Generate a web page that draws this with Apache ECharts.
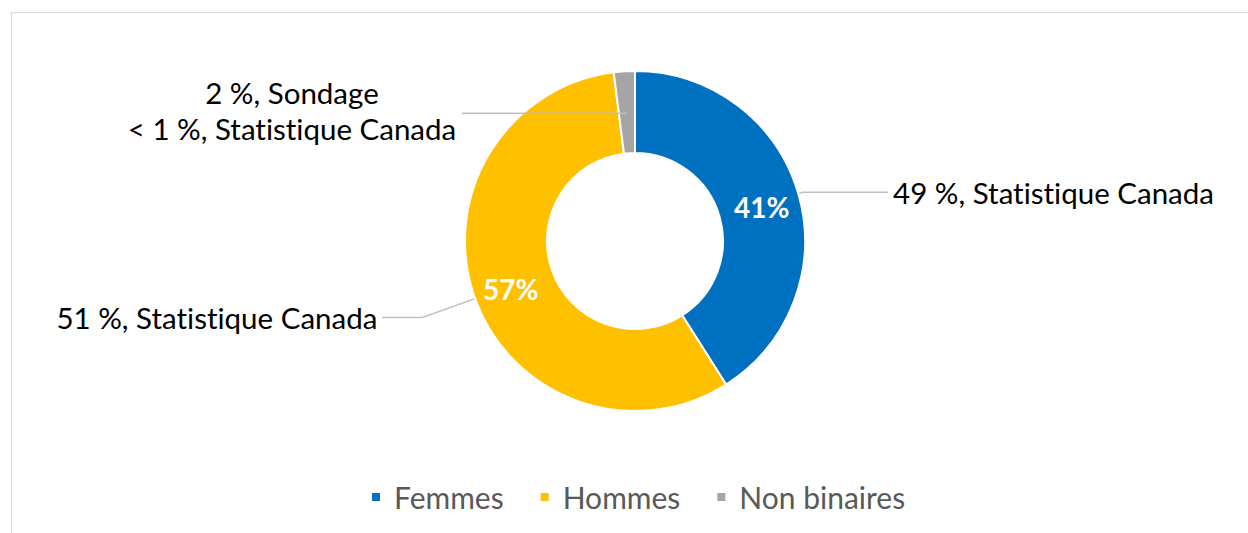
<!DOCTYPE html>
<html>
<head>
<meta charset="utf-8">
<script src="https://cdn.jsdelivr.net/npm/echarts@6/dist/echarts.min.js"></script>
<style>
  html, body { margin: 0; padding: 0; background: #fff; overflow: hidden; }
  #frame { position: absolute; left: 11px; top: 12px; width: 1400px; height: 700px; border: 1.5px solid #d9d9d9; box-sizing: border-box; }
  #chart { position: absolute; left: 0; top: 0; width: 1248px; height: 533px; font-variant-ligatures: none; }
  #chart text, #chart tspan { font-variant-ligatures: none !important; }
</style>
</head>
<body>
<div id="frame"></div>
<div id="chart"></div>
<script>
// ---- data ----
const categories = ['Femmes', 'Hommes', 'Non binaires'];
const surveyValues = [41, 57, 2];
const showInsideLabel = [true, true, false];
const outerLabels = [
  '49 %, Statistique Canada',
  '51 %, Statistique Canada',
  '2 %, Sondage\n< 1 %, Statistique Canada'
];
const colors = ['#0070C0', '#FFC000', '#A5A5A5'];

// ---- styling ----
const FONT = 'Lato';
const center = [635, 241];
const lineStyle = { color: '#BFBFBF', width: 1.5 };

const chart = echarts.init(document.getElementById('chart'), null, { renderer: 'svg' });

const visibleData = categories.map((c, i) => ({
  name: c, value: surveyValues[i], itemStyle: { color: colors[i] }
}));

// outer label series (transparent) - Femmes/Hommes leaders start at outer edge
const lenA = [[5, 85], [56, 40], [0, 0]];
const outerDataA = categories.map((c, i) => ({
  name: c, value: surveyValues[i],
  label: { show: i < 2 },
  labelLine: { show: i < 2, length: lenA[i][0], length2: lenA[i][1] }
}));
// grey label leader starts inside the ring
const outerDataB = categories.map((c, i) => ({
  name: c, value: surveyValues[i],
  label: { show: i === 2 },
  labelLine: { show: i === 2, length: 0, length2: 165 }
}));

const outerLabelCommon = {
  position: 'outside',
  alignTo: 'none',
  color: '#000',
  fontFamily: FONT,
  fontSize: 29.5,
  lineHeight: 36,
  formatter: p => outerLabels[p.dataIndex]
};

chart.setOption({
  animation: false,
  legend: {
    data: categories,
    bottom: 16,
    left: 365,
    icon: 'rect',
    itemWidth: 10,
    itemHeight: 10,
    itemGap: 35,
    textStyle: { fontFamily: FONT, fontSize: 30, color: '#595959', padding: [0, 0, 0, 8] }
  },
  series: [
    {
      type: 'pie',
      center: center,
      radius: [88, 170],
      startAngle: 90,
      clockwise: true,
      itemStyle: { borderColor: '#fff', borderWidth: 2 },
      label: {
        position: 'inside',
        color: '#fff',
        fontWeight: 'bold',
        fontFamily: FONT,
        fontSize: 28,
        offset: [0, 3],
        formatter: p => showInsideLabel[p.dataIndex] ? p.value + '%' : ''
      },
      labelLine: { show: false },
      emphasis: { disabled: true },
      data: visibleData,
      z: 2
    },
    {
      type: 'pie',
      center: center,
      radius: [88, 170],
      startAngle: 90,
      clockwise: true,
      silent: true,
      itemStyle: { color: 'rgba(0,0,0,0)' },
      label: outerLabelCommon,
      labelLine: { lineStyle: lineStyle },
      emphasis: { disabled: true },
      data: outerDataA,
      z: 1
    },
    {
      type: 'pie',
      center: center,
      radius: [0, 128],
      startAngle: 90,
      clockwise: true,
      silent: true,
      itemStyle: { color: 'rgba(0,0,0,0)' },
      label: Object.assign({}, outerLabelCommon, {
        padding: [0, 0, 6, 0],
        formatter: p => '{c|' + outerLabels[p.dataIndex].split('\n').join('}\n{c|') + '}',
        rich: { c: { width: 330, align: 'center', fontFamily: FONT, fontSize: 29.5, lineHeight: 36, color: '#000' } }
      }),
      labelLine: { lineStyle: lineStyle },
      emphasis: { disabled: true },
      data: outerDataB,
      z: 3
    }
  ]
});
</script>
</body>
</html>
